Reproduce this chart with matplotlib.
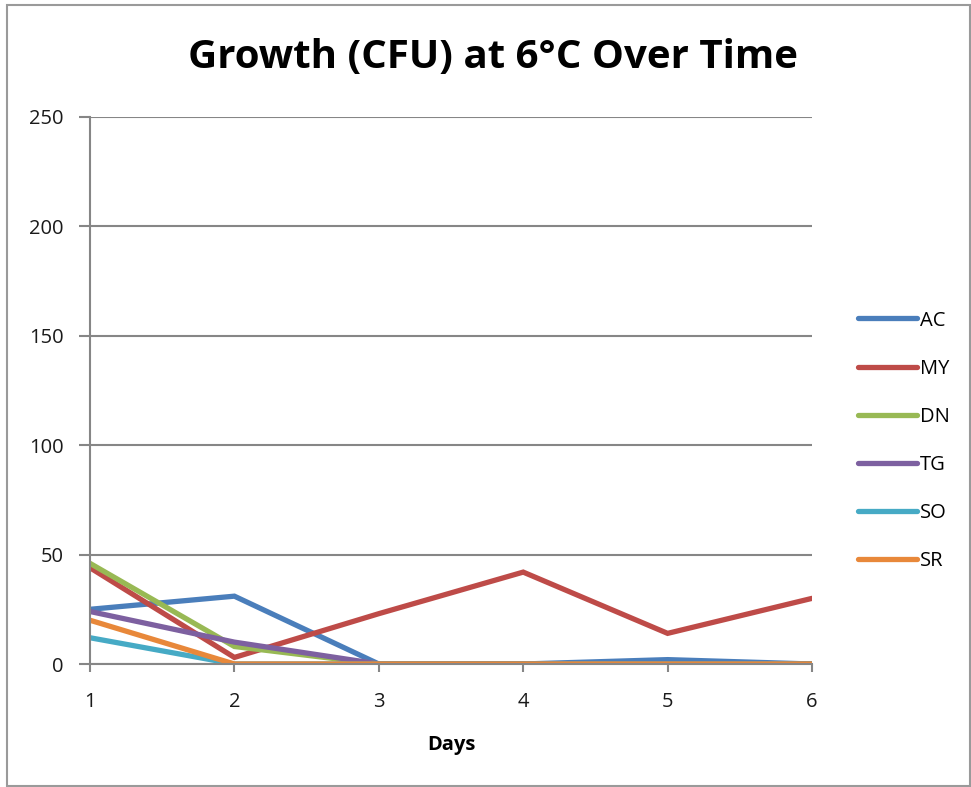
import matplotlib
matplotlib.use("Agg")
import matplotlib.pyplot as plt
from matplotlib.patches import Rectangle

plt.rcParams['font.family'] = ['Open Sans', 'DejaVu Sans']

days = [1, 2, 3, 4, 5, 6]
series_names = ["AC", "MY", "DN", "TG", "SO", "SR"]
ac = [25, 31, 0, 0, 2, 0]
my = [44, 3, 23, 42, 14, 30]
dn = [46, 8, 0, 0, 0, 0]
tg = [24, 10, 0, 0, 0, 0]
so = [12, 0, 0, 0, 0, 0]
sr = [20, 0, 0, 0, 0, 0]
colors = ["#4A7EBB", "#BE4B48", "#98B954", "#7D60A0", "#46AAC5", "#E8883A"]
y_ticks = [0, 50, 100, 150, 200, 250]

W, H = 971, 787
fig = plt.figure(figsize=(W / 100, H / 100), dpi=100)
fig.patches.append(Rectangle((7 / W, 1 / H), (W - 8) / W, (H - 6) / H,
                             transform=fig.transFigure, fill=False,
                             edgecolor="#9A9A9A", linewidth=1.5))

ax = fig.add_axes([90 / W, (H - 664) / H, (812 - 90) / W, (664 - 117) / H])

for name, vals, c in zip(series_names, [ac, my, dn, tg, so, sr], colors):
    ax.plot(days, vals, color=c, linewidth=3.8, label=name,
            solid_capstyle="round", solid_joinstyle="miter")

ax.set_xlim(1, 6)
ax.set_ylim(0, 250)
ax.set_xticks(days)
ax.set_yticks(y_ticks)
ax.yaxis.grid(True, color="#868686", linewidth=1.5)
ax.set_axisbelow(True)
for s in ["top", "right"]:
    ax.spines[s].set_visible(False)
for s in ["left", "bottom"]:
    ax.spines[s].set_color("#868686")
    ax.spines[s].set_linewidth(1.5)
ax.tick_params(axis="both", colors="#868686", width=1.5, labelcolor="#1a1a1a",
               labelsize=14.5)
ax.tick_params(axis="y", length=8, pad=11)
ax.tick_params(axis="x", length=6, pad=14)
ax.set_xlabel("Days", fontsize=14.5, fontweight="bold", labelpad=17)

fig.text(493 / W, 1 - 58 / H, "Growth (CFU) at 6°C Over Time",
         ha="center", va="center", fontsize=29, fontweight="bold")

leg = ax.legend(loc="center left", bbox_to_anchor=(840 / W, 1 - 441 / H),
                bbox_transform=fig.transFigure, frameon=False, fontsize=14.5,
                handlelength=2.9, handletextpad=0.15, labelspacing=1.40)

fig.savefig("out.png", dpi=100)
